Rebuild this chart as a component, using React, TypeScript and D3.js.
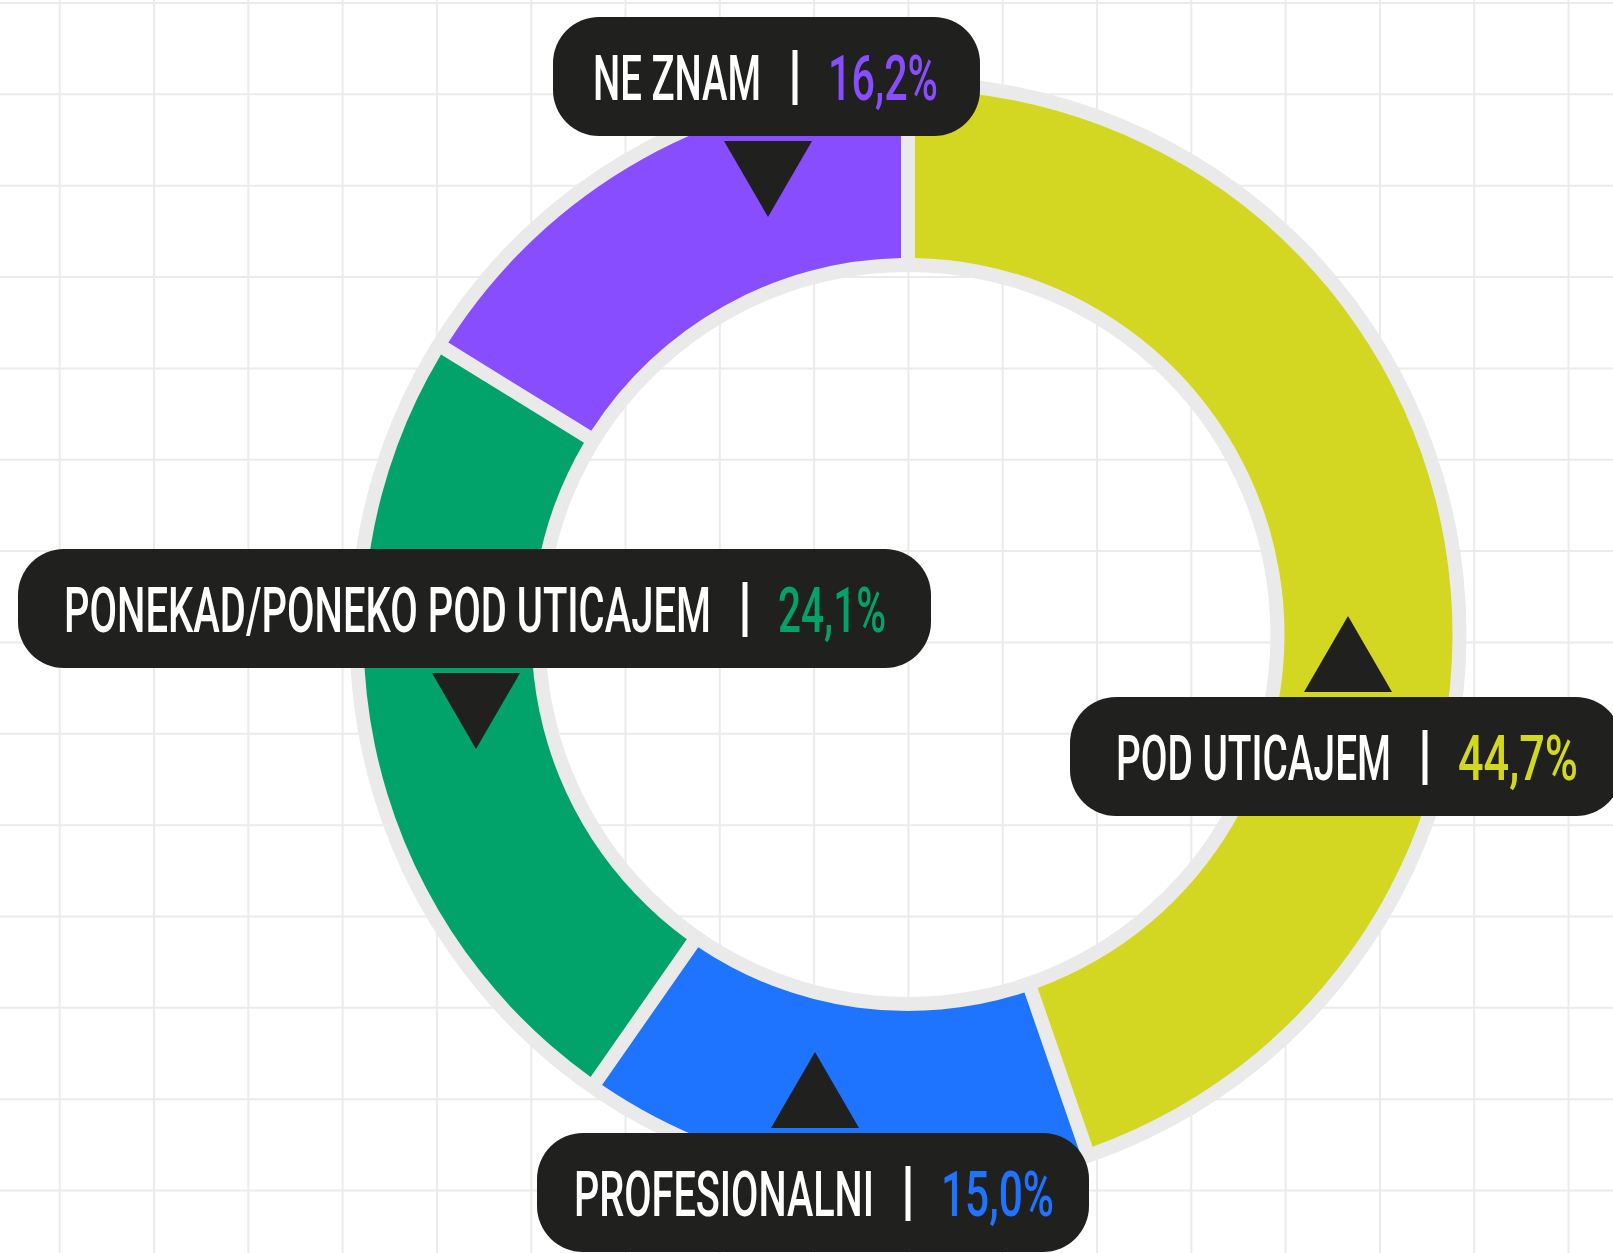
import React, { useLayoutEffect, useRef, useState } from "react";
import * as d3 from "d3";

// ---- data ----
const categories = ["POD UTICAJEM", "PROFESIONALNI", "PONEKAD/PONEKO POD UTICAJEM", "NE ZNAM"];
const shares = [44.7, 15.0, 24.1, 16.2];
const shareLabels = ["44,7%", "15,0%", "24,1%", "16,2%"];
const sliceColors = ["#d4d722", "#1e73ff", "#02a36a", "#884dff"];

// ---- label layout (annotation placement, not data) ----
const labelLayout = [
  { left: 1070, top: 697, right: 1622, pointer: "up", px: 1348, nameW: 275, pctW: 120, pad: 46 },
  { left: 537, top: 1133, right: 1089, pointer: "up", px: 815, nameW: 300, pctW: 113, pad: 37 },
  { left: 18, top: 549, right: 931, pointer: "down", px: 476, nameW: 647, pctW: 108, pad: 46 },
  { left: 553, top: 17, right: 980, pointer: "down", px: 768, nameW: 168, pctW: 110, pad: 40 },
];

const W = 1613;
const H = 1253;
const CX = 908;
const CY = 634.5;
const HOLE_R = 362.5;
const OUTER_R = 558.5;
const BORDER = 14;
const BOX_H = 119;
const GRID_X0 = 59.7;
const GRID_DX = 94.3;
const GRID_Y0 = 3;
const GRID_DY = 91.35;
const DARK = "#20201e";
const RING_GRAY = "#eaeaea";
const GRID_GRAY = "#ebebeb";
const FONT = "Roboto, 'DejaVu Sans', sans-serif";

function FitText(props: { x: number; y: number; width: number; fill: string; children: string }) {
  const ref = useRef<SVGTextElement>(null);
  const [sx, setSx] = useState(0.6);
  useLayoutEffect(() => {
    if (ref.current) {
      const nat = ref.current.getComputedTextLength();
      if (nat > 0) setSx(props.width / nat);
    }
  }, [props.width, props.children]);
  return (
    <g transform={`translate(${props.x},${props.y}) scale(${sx},1)`}>
      <text ref={ref} x={0} y={0} fill={props.fill} fontFamily={FONT} fontWeight={500} fontSize={63}>
        {props.children}
      </text>
    </g>
  );
}

export default function App() {
  const data = categories.map((c, i) => ({ name: c, value: shares[i], label: shareLabels[i], color: sliceColors[i] }));
  const pie = d3
    .pie<any>()
    .sort(null)
    .value((d: any) => d.value)
    .startAngle(0)
    .endAngle(2 * Math.PI);
  const arcs = pie(data);
  const arc = d3
    .arc<any>()
    .innerRadius(HOLE_R + BORDER)
    .outerRadius(OUTER_R - BORDER)
    .padAngle(BORDER / 100)
    .padRadius(100);
  const ringArc = d3.arc<any>().innerRadius(HOLE_R).outerRadius(OUTER_R).startAngle(0).endAngle(2 * Math.PI);

  const vx = d3.range(0, 17).map((k) => GRID_X0 + k * GRID_DX);
  const hy = d3.range(0, 14).map((k) => GRID_Y0 + k * GRID_DY);

  const triW = 88;
  const triH = 76;
  const triGap = 5;

  return (
    <svg
      width={W}
      height={H}
      viewBox={`0 0 ${W} ${H}`}
      style={{ position: "absolute", left: 0, top: 0, background: "#ffffff" }}
    >
      <rect x={0} y={0} width={W} height={H} fill="#ffffff" />
      <g>
        {vx.map((x, i) => (
          <line key={"v" + i} x1={x} x2={x} y1={0} y2={H} stroke={GRID_GRAY} strokeWidth={2} />
        ))}
        {hy.map((y, i) => (
          <line key={"h" + i} x1={0} x2={W} y1={y} y2={y} stroke={GRID_GRAY} strokeWidth={2} />
        ))}
      </g>
      <g transform={`translate(${CX},${CY})`}>
        <path d={ringArc({}) as string} fill={RING_GRAY} />
        {arcs.map((a, i) => (
          <path key={i} d={arc(a) as string} fill={a.data.color} />
        ))}
      </g>
      <g>
        {data.map((d, i) => {
          const L = labelLayout[i];
          const top = L.top;
          const bottom = top + BOX_H;
          const baseline = top + 82.5;
          const nameX = L.left + L.pad;
          const barX = nameX + L.nameW + 34;
          const pctX = barX + 33;
          let tri: string;
          if (L.pointer === "up") {
            const by = top - triGap;
            tri = `M${L.px - triW / 2},${by} L${L.px + triW / 2},${by} L${L.px},${by - triH} Z`;
          } else {
            const by = bottom + triGap;
            tri = `M${L.px - triW / 2},${by} L${L.px + triW / 2},${by} L${L.px},${by + triH} Z`;
          }
          return (
            <g key={i}>
              <rect
                x={L.left}
                y={top}
                width={L.right - L.left}
                height={BOX_H}
                rx={46}
                ry={46}
                fill={DARK}
              />
              <path d={tri} fill={DARK} />
              <FitText x={nameX} y={baseline} width={L.nameW} fill="#ffffff">
                {d.name}
              </FitText>
              <rect x={barX - 2.5} y={top + 33} width={5} height={55} fill="#ffffff" />
              <FitText x={pctX} y={baseline} width={L.pctW} fill={d.color}>
                {d.label}
              </FitText>
            </g>
          );
        })}
      </g>
    </svg>
  );
}
